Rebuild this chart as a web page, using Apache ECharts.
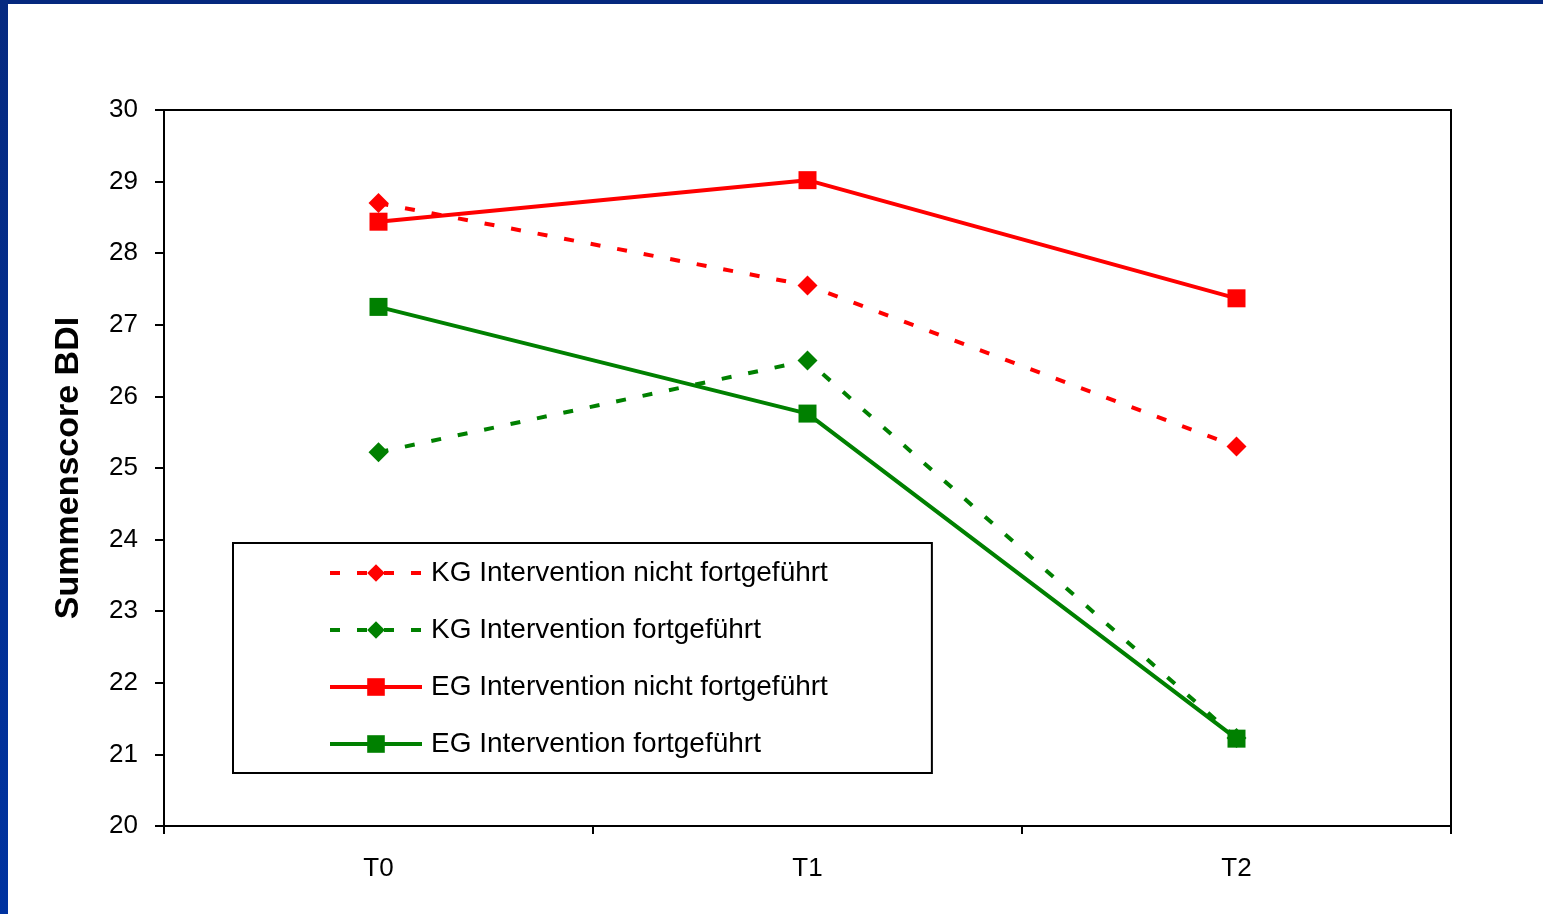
<!DOCTYPE html>
<html lang="de">
	<head>
		<meta charset="UTF-8">
		<title>Summenscore BDI</title>
		<script src="https://cdn.jsdelivr.net/npm/echarts@6/dist/echarts.min.js"></script>
		<style>
			html, body { margin: 0; padding: 0; background: #fff; }
			#chart { width: 1543px; height: 914px; }
			.bar-top { position: absolute; left: 0; top: 0; width: 1543px; height: 4px; background: #05287e; }
			.bar-left { position: absolute; left: 0; top: 0; width: 8px; height: 914px; background: linear-gradient(#062a80, #0033a0); }
		</style>
	</head>
	<body>
		<div id="chart"></div>
		<div class="bar-top"></div>
		<div class="bar-left"></div>

		<script>
			// Messzeitpunkte
			const categories = ['T0', 'T1', 'T2'];
			const seriesNames = [
				'KG Intervention nicht fortgeführt',
				'KG Intervention fortgeführt',
				'EG Intervention nicht fortgeführt',
				'EG Intervention fortgeführt'
			];
			const kgNicht = [28.7, 27.55, 25.3];
			const kgFort = [25.22, 26.5, 21.23];
			const egNicht = [28.44, 29.02, 27.37];
			const egFort = [27.25, 25.76, 21.22];
			const yTicks = { min: 20, max: 30, interval: 1 };

			const red = '#ff0000';
			const green = '#008000';
			const font = 'Liberation Sans, Arial, sans-serif';

			const chart = echarts.init(document.getElementById('chart'));

			function makeSeries(name, data, color, dashed, symbol) {
				return {
					name: name,
					type: 'line',
					data: data,
					symbol: symbol,
					symbolSize: symbol === 'diamond' ? [20, 20] : [18, 18],
					showAllSymbol: true,
					itemStyle: { color: color },
					lineStyle: {
						color: color,
						width: 4,
						type: dashed ? [10, 17] : 'solid'
					},
					animation: false
				};
			}

			const option = {
				backgroundColor: '#fff',
				grid: {
					left: 164,
					right: 92,
					top: 110,
					bottom: 88,
					show: true,
					borderColor: '#000',
					borderWidth: 2
				},
				legend: {
					orient: 'vertical',
					left: 233,
					top: 543,
					data: seriesNames,
					itemWidth: 92,
					itemHeight: 22,
					itemGap: 27,
					padding: [15, 104, 14, 95],
					borderColor: '#000',
					borderWidth: 2,
					backgroundColor: '#fff',
					lineStyle: { width: 4 },
					textStyle: {
						fontFamily: font,
						fontSize: 28,
						lineHeight: 30,
						color: '#000',
						padding: [0, 0, 0, 4]
					}
				},
				xAxis: {
					type: 'category',
					data: categories,
					boundaryGap: true,
					axisLine: { lineStyle: { color: '#000', width: 2 } },
					axisTick: { show: true, length: 8, lineStyle: { color: '#000', width: 2 } },
					axisLabel: { fontFamily: font, fontSize: 26, color: '#000', margin: 30 },
					splitLine: { show: false }
				},
				yAxis: {
					type: 'value',
					min: yTicks.min,
					max: yTicks.max,
					interval: yTicks.interval,
					name: 'Summenscore BDI',
					nameLocation: 'middle',
					nameGap: 78,
					nameTextStyle: { fontFamily: font, fontSize: 34, fontWeight: 'bold', color: '#000' },
					axisLine: { show: true, lineStyle: { color: '#000', width: 2 } },
					axisTick: { show: true, length: 9, lineStyle: { color: '#000', width: 2 } },
					axisLabel: { fontFamily: font, fontSize: 26, color: '#000', margin: 26 },
					splitLine: { show: false }
				},
				series: [
					makeSeries(seriesNames[0], kgNicht, red, true, 'diamond'),
					makeSeries(seriesNames[1], kgFort, green, true, 'diamond'),
					makeSeries(seriesNames[2], egNicht, red, false, 'rect'),
					makeSeries(seriesNames[3], egFort, green, false, 'rect')
				]
			};

			chart.setOption(option);
		</script>
	</body>
</html>
